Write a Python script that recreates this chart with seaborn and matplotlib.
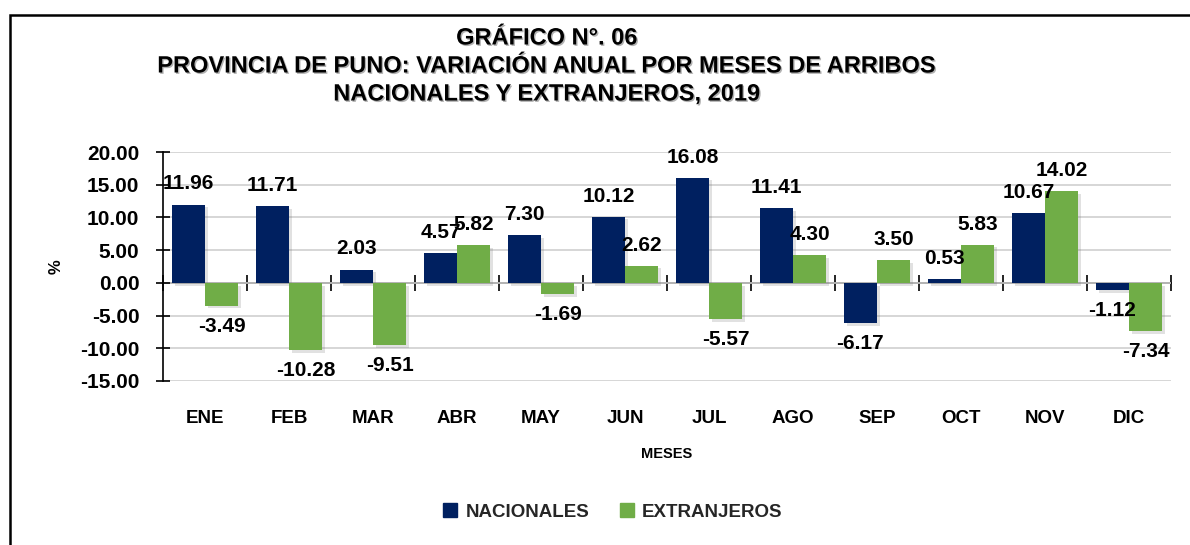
import matplotlib
matplotlib.use("Agg")
import matplotlib.pyplot as plt
import matplotlib.patheffects as pe
from matplotlib.patches import Rectangle
from matplotlib.ticker import FuncFormatter
import seaborn as sns
import pandas as pd

months = ["ENE", "FEB", "MAR", "ABR", "MAY", "JUN", "JUL", "AGO", "SEP", "OCT", "NOV", "DIC"]
nacionales = [11.96, 11.71, 2.03, 4.57, 7.30, 10.12, 16.08, 11.41, -6.17, 0.53, 10.67, -1.12]
extranjeros = [-3.49, -10.28, -9.51, 5.82, -1.69, 2.62, -5.57, 4.30, 3.50, 5.83, 14.02, -7.34]
series_names = ["NACIONALES", "EXTRANJEROS"]
title_lines = ["GRÁFICO N°. 06",
               "PROVINCIA DE PUNO: VARIACIÓN ANUAL POR MESES DE ARRIBOS",
               "NACIONALES Y EXTRANJEROS, 2019"]
y_ticks = [-15, -10, -5, 0, 5, 10, 15, 20]

df = pd.DataFrame({
    "mes": months * 2,
    "serie": [series_names[0]] * 12 + [series_names[1]] * 12,
    "valor": nacionales + extranjeros,
})

sns.set_theme(style="white")
FONT = ["Liberation Sans", "DejaVu Sans"]
plt.rcParams["font.family"] = FONT
plt.rcParams["font.weight"] = "bold"
plt.rcParams["axes.labelweight"] = "bold"
plt.rcParams["axes.unicode_minus"] = False

W, H = 1190, 545
fig = plt.figure(figsize=(W / 100, H / 100), dpi=100)
ax = fig.add_axes([163 / W, 1 - 381 / H, (1171 - 163) / W, (381 - 152) / H])

palette = {"NACIONALES": "#002060", "EXTRANJEROS": "#70AD47"}
sns.barplot(data=df, x="mes", y="valor", hue="serie", order=months,
            hue_order=series_names, palette=palette, width=0.79,
            saturation=1, ax=ax, legend=False, linewidth=0)

NUM = 15
for cont in ax.containers:
    for p in cont:
        p.set_linewidth(0)
        p.set_path_effects([pe.SimplePatchShadow(offset=(2, -2), shadow_rgbFace="#777777", alpha=0.22),
                            pe.Normal()])
    ax.bar_label(cont, labels=[f"{v:.2f}" for v in cont.datavalues], padding=8,
                 fontsize=NUM, fontweight="bold", color="black")

ax.set_ylim(-15, 20)
ax.set_xlim(-0.5, 11.5)
ax.set_yticks(y_ticks)
ax.yaxis.set_major_formatter(FuncFormatter(lambda v, p: f"{v:.2f}"))
ax.yaxis.grid(True, color="#D0D0D0", linewidth=1.2)
ax.set_axisbelow(True)
for s in ["top", "right", "bottom"]:
    ax.spines[s].set_visible(False)
ax.spines["left"].set_color("black")
ax.spines["left"].set_linewidth(1.2)
ax.tick_params(axis="y", direction="inout", length=10, width=1.2, left=True,
               labelsize=NUM, pad=12, colors="black")
ax.tick_params(axis="x", length=0, labelsize=13.5, pad=21, colors="black")

ax.set_xlabel("MESES", fontsize=10.5, fontweight="bold", labelpad=14, color="black")
ax.set_ylabel("%", fontsize=12, fontweight="bold", labelpad=12, color="black")

# zero line with category boundary ticks
sec = ax.secondary_xaxis((0 - (-15)) / 35)
sec.set_xticks([i - 0.5 for i in range(len(months) + 1)])
sec.set_xticklabels([])
sec.tick_params(axis="x", direction="inout", length=12, width=1.2, color="black")
sec.spines["bottom"].set_color("black")
sec.spines["bottom"].set_linewidth(1.2)

# title
title_y = [38, 66, 94]
for line, yy in zip(title_lines, title_y):
    fig.text(547 / W, 1 - yy / H, line, ha="center", va="center",
             fontsize=17, fontweight="bold", color="black",
             path_effects=[pe.withSimplePatchShadow(offset=(1, -1), alpha=0.3)])

# legend
handles = [Rectangle((0, 0), 1, 1, color=palette[s]) for s in series_names]
fig.legend(handles, series_names, loc="center", bbox_to_anchor=(613 / W, 1 - 512 / H),
           ncol=2, frameon=False, prop={"size": 13.5, "weight": "bold", "family": FONT},
           handlelength=0.75, handleheight=0.75, columnspacing=1.6, handletextpad=0.45)

# border
fig.add_artist(Rectangle((10 / W, -0.1), 1.2, 1.1 - 15 / H, transform=fig.transFigure,
                         fill=False, edgecolor="black", linewidth=1.8, clip_on=False))

fig.savefig("out.png", dpi=100)
